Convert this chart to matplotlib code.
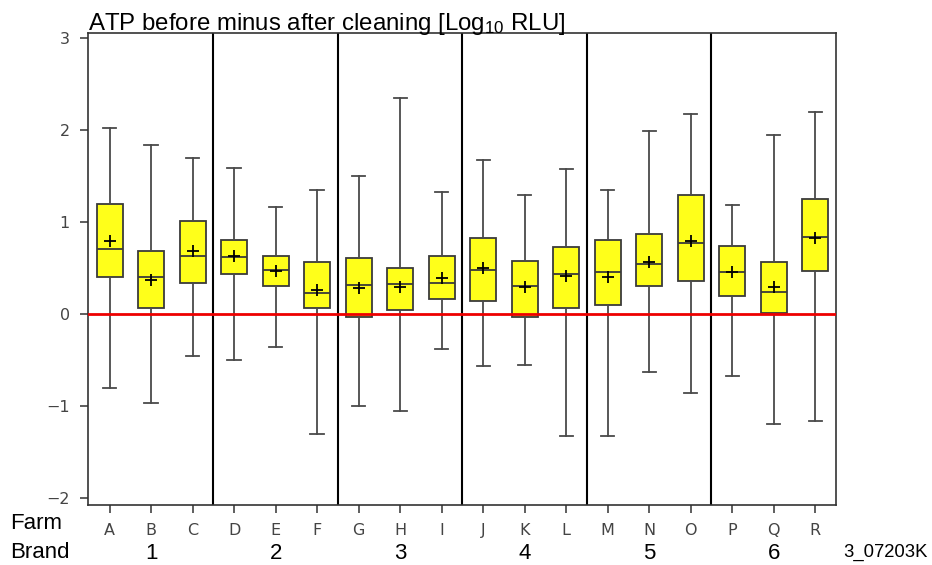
import matplotlib.pyplot as plt
import numpy as np

plt.rcParams['mathtext.fontset'] = 'custom'
plt.rcParams['mathtext.rm'] = 'Liberation Sans'
plt.rcParams['mathtext.it'] = 'Liberation Sans'

farms = ["A", "B", "C", "D", "E", "F", "G", "H", "I",
         "J", "K", "L", "M", "N", "O", "P", "Q", "R"]
brands = ["1", "2", "3", "4", "5", "6"]

# (Log10 RLU)
whisker_hi = [2.02, 1.84, 1.70, 1.59, 1.16, 1.35, 1.50, 2.35, 1.33,
              1.67, 1.29, 1.58, 1.35, 1.99, 2.17, 1.18, 1.95, 2.19]
q3 = [1.20, 0.69, 1.01, 0.80, 0.63, 0.56, 0.61, 0.50, 0.63,
      0.83, 0.58, 0.73, 0.80, 0.87, 1.29, 0.74, 0.56, 1.25]
medians = [0.71, 0.40, 0.63, 0.62, 0.475, 0.23, 0.32, 0.33, 0.34,
           0.48, 0.30, 0.44, 0.46, 0.54, 0.77, 0.46, 0.24, 0.84]
means = [0.79, 0.37, 0.68, 0.63, 0.47, 0.26, 0.28, 0.29, 0.39,
         0.50, 0.29, 0.41, 0.40, 0.57, 0.79, 0.46, 0.29, 0.83]
q1 = [0.40, 0.06, 0.34, 0.43, 0.30, 0.06, -0.03, 0.04, 0.16,
      0.145, -0.03, 0.06, 0.10, 0.30, 0.355, 0.20, 0.01, 0.47]
whisker_lo = [-0.80, -0.97, -0.46, -0.50, -0.355, -1.30, -1.00, -1.05, -0.38,
              -0.57, -0.555, -1.33, -1.33, -0.63, -0.86, -0.67, -1.20, -1.16]

stats = []
for i, f in enumerate(farms):
    stats.append(dict(label=f, whislo=whisker_lo[i], q1=q1[i], med=medians[i],
                      q3=q3[i], whishi=whisker_hi[i], mean=means[i], fliers=[]))

fig = plt.figure(figsize=(9.32, 5.65), dpi=100)
ax = fig.add_axes([88 / 932, 60 / 565, 748 / 932, 472 / 565])

pos = np.arange(1, len(farms) + 1)
edge = "#3a3a3a"
ax.bxp(stats, positions=pos, widths=0.63, patch_artist=True, showmeans=True,
       boxprops=dict(facecolor="#ffff1a", edgecolor=edge, linewidth=1.3),
       medianprops=dict(color=edge, linewidth=1.3),
       whiskerprops=dict(color="#4a4a4a", linewidth=1.3),
       capprops=dict(color="#4a4a4a", linewidth=1.3),
       meanprops=dict(marker="+", markeredgecolor="black", markersize=8,
                      markeredgewidth=1.3),
       capwidths=0.32)

ax.axhline(0, color="#ee0000", linewidth=2, zorder=3)
for b in range(1, len(brands)):
    ax.axvline(b * 3 + 0.5, color="black", linewidth=1.5, zorder=1)

ax.set_xlim(0.48, 18.5)
ax.set_ylim(-2.076, 3.054)
ax.set_yticks([3, 2, 1, 0, -1, -2])
ax.set_yticklabels(["3", "2", "1", "0", "\u22121", "\u22122"])
ax.set_xticks(pos)
ax.set_xticklabels(farms)
ax.tick_params(axis="both", direction="out", length=6, width=1.1,
               colors="#333333", labelsize=11.5, labelcolor="#444444")
ax.tick_params(axis="x", pad=7)
ax.tick_params(axis="y", pad=7)
for s in ax.spines.values():
    s.set_color("#333333")
    s.set_linewidth(1.2)

fig.text(88 / 932, 1 - 30 / 565, "ATP before minus after cleaning [Log$_{10}$ RLU]",
         fontsize=17.3, family="Liberation Sans", ha="left", va="baseline")
fig.text(10 / 932, 1 - 529 / 565, "Farm", fontsize=16, family="Liberation Sans",
         va="baseline")
fig.text(10 / 932, 1 - 558 / 565, "Brand", fontsize=16, family="Liberation Sans",
         va="baseline")
for b, name in enumerate(brands):
    xc = ax.transData.transform((b * 3 + 2, 0))[0] / fig.bbox.width
    fig.text(xc, 1 - 564 / 565, name, fontsize=16, family="Liberation Sans",
             ha="center", va="bottom")
fig.text(928 / 932, 1 - 557 / 565, "3_07203K", fontsize=13.3,
         family="Liberation Sans", ha="right", va="baseline")

fig.savefig("out.png", dpi=100)
